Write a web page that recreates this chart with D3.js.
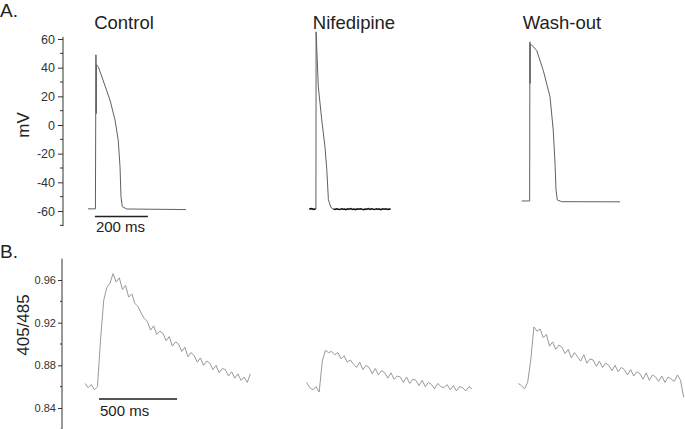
<!DOCTYPE html>
<html>
<head>
<meta charset="utf-8">
<script src="https://cdn.jsdelivr.net/npm/d3@7/dist/d3.min.js"></script>
<style>
  body { margin: 0; background: #fff; }
  svg { font-family: "Liberation Sans", Arial, sans-serif; }
  .axis text { fill: #333; }
  .axis line, .axis path { stroke: #333; }
</style>
</head>
<body>
<div id="chart"></div>
<script>
// panel titles
var conditions = ["Control", "Nifedipine", "Wash-out"];

// A. membrane potential (time in ms from sweep start, mV)
var ctrlT = [0, 28, 30, 30.6, 31.2, 31.8, 38.9, 56.6, 83, 102, 114, 120.8, 124.5, 129.4, 146, 370];
var ctrlV = [-58.5, -58.5, 49, 30, 8, 42, 40.7, 31.4, 17.4, 3.5, -10.5, -29, -50, -57, -58.6, -59];

var nifT = [0, 25, 25.6, 34, 47, 59, 66, 72, 81, 91];
var nifV = [-58.6, -58.6, 65, 26.7, 3.5, -15, -31, -52, -57.4, -58.6];
var nifPreT = [0, 8, 16, 24];
var nifPreV = [-58.6, -58.3, -58.9, -58.5];
var nifBaseT = [91, 97, 103, 109, 115, 121, 127, 133, 139, 145, 151, 157, 163, 169, 175, 181, 187, 193, 199, 205, 211, 217, 223, 229, 235, 241, 247, 253, 259, 265, 271, 277, 283, 289, 295, 301, 307];
var nifBaseV = [-58.6, -58.9, -58.5, -58.7, -59.0, -58.4, -58.8, -58.6, -59.1, -58.5, -58.7, -58.3, -58.9, -58.6, -59.0, -58.5, -58.8, -58.4, -58.7, -59.1, -58.6, -58.8, -58.3, -58.9, -58.5, -58.7, -59.0, -58.4, -58.8, -58.6, -59.1, -58.5, -58.7, -58.4, -58.9, -58.6, -58.8];

var woT = [0, 30, 31, 31.6, 32.2, 37.7, 56.6, 81.5, 106.8, 119, 125.7, 129.4, 134.3, 151, 371];
var woV = [-53, -53, 58, 29, 56.5, 55.8, 52, 38, 19.7, -3.5, -26.7, -45, -52.3, -53.5, -53.6];

var mvTicks = [-60, -40, -20, 0, 20, 40, 60];
var mvMinor = [-70, -50, -30, -10, 10, 30, 50];

// B. 405/485 ratio, sampled every 20 ms
var ratioT = d3.range(0, 1061, 20);
var ctrlRatio = [0.863, 0.859, 0.862, 0.857, 0.860, 0.905, 0.941, 0.953, 0.957, 0.966, 0.958, 0.962, 0.951, 0.955, 0.944, 0.947, 0.938, 0.935, 0.929, 0.924, 0.921, 0.913, 0.917, 0.909, 0.912, 0.910, 0.903, 0.907, 0.898, 0.902, 0.900, 0.893, 0.897, 0.888, 0.892, 0.889, 0.883, 0.887, 0.880, 0.884, 0.882, 0.876, 0.880, 0.873, 0.877, 0.876, 0.870, 0.874, 0.868, 0.872, 0.866, 0.869, 0.864, 0.872];
var nifRatio = [0.864, 0.859, 0.857, 0.860, 0.855, 0.884, 0.894, 0.892, 0.893, 0.890, 0.892, 0.886, 0.889, 0.883, 0.885, 0.881, 0.878, 0.883, 0.876, 0.880, 0.878, 0.872, 0.877, 0.871, 0.875, 0.873, 0.868, 0.873, 0.867, 0.870, 0.869, 0.864, 0.869, 0.863, 0.867, 0.866, 0.861, 0.866, 0.860, 0.864, 0.862, 0.858, 0.863, 0.860, 0.859, 0.862, 0.857, 0.861, 0.856, 0.860, 0.859, 0.856, 0.860, 0.858];
var woRatio = [0.863, 0.861, 0.858, 0.864, 0.885, 0.916, 0.912, 0.914, 0.906, 0.909, 0.898, 0.902, 0.895, 0.899, 0.897, 0.891, 0.895, 0.887, 0.892, 0.888, 0.884, 0.890, 0.882, 0.886, 0.885, 0.879, 0.884, 0.878, 0.882, 0.880, 0.875, 0.880, 0.874, 0.878, 0.876, 0.871, 0.876, 0.870, 0.874, 0.872, 0.867, 0.873, 0.866, 0.871, 0.869, 0.865, 0.870, 0.864, 0.869, 0.867, 0.865, 0.871, 0.866, 0.850];

var ratioTicks = [0.84, 0.88, 0.92, 0.96];
var ratioMinor = [0.82, 0.86, 0.90, 0.94];

var width = 685, height = 429;
var svg = d3.select("#chart").append("svg")
    .attr("width", width)
    .attr("height", height);

// scales
var yA = d3.scaleLinear().domain([-60, 60]).range([211, 39]);
var xA = d3.scaleLinear().domain([0, 400]).range([0, 106]);
var yB = d3.scaleLinear().domain([0.84, 0.96]).range([408, 280]);
var xB = d3.scaleLinear().domain([0, 1100]).range([0, 171.6]);
var offA = [88, 309.3, 521.7];
var offB = [85, 306.7, 518.3];

// panel letters + titles
svg.append("text").attr("x", 0).attr("y", 17).attr("font-size", 19).attr("fill", "#222").text("A.");
svg.append("text").attr("x", 0).attr("y", 258).attr("font-size", 19).attr("fill", "#222").text("B.");
var titleX = [124, 354, 562];
conditions.forEach(function (c, i) {
    svg.append("text")
        .attr("x", titleX[i]).attr("y", 29)
        .attr("text-anchor", "middle")
        .attr("font-size", 18.5).attr("fill", "#222")
        .text(c);
});

var hyphen = function (d) { return String(d).replace("\u2212", "-"); };

// y axis A
var gA = svg.append("g").attr("class", "axis").attr("transform", "translate(63,0)");
gA.call(d3.axisLeft(yA).tickValues(mvTicks).tickFormat(function (d) { return d < 0 ? "-" + (-d) : "" + d; })
        .tickSize(5).tickPadding(3).tickSizeOuter(0))
    .attr("font-size", 12.5);
gA.select(".domain").remove();
gA.append("line").attr("x1", 0).attr("x2", 0).attr("y1", yA(61.5)).attr("y2", yA(-70.5))
    .attr("stroke", "#333");
gA.selectAll(".minor").data(mvMinor).enter().append("line")
    .attr("class", "minor")
    .attr("x1", -3).attr("x2", 0)
    .attr("y1", function (d) { return yA(d); }).attr("y2", function (d) { return yA(d); })
    .attr("stroke", "#333");
svg.append("text")
    .attr("transform", "translate(29," + yA(0) + ") rotate(-90)")
    .attr("text-anchor", "middle").attr("font-size", 17).attr("fill", "#222")
    .text("mV");

// y axis B
var gB = svg.append("g").attr("class", "axis").attr("transform", "translate(62,0)");
gB.call(d3.axisLeft(yB).tickValues(ratioTicks).tickFormat(d3.format(".2f")).tickSize(4).tickPadding(2).tickSizeOuter(0))
    .attr("font-size", 11);
gB.select(".domain").remove();
gB.append("line").attr("x1", 0).attr("x2", 0).attr("y1", yB(0.98)).attr("y2", yB(0.82))
    .attr("stroke", "#333");
gB.selectAll(".minor").data(ratioMinor).enter().append("line")
    .attr("class", "minor")
    .attr("x1", -2).attr("x2", 0)
    .attr("y1", function (d) { return yB(d); }).attr("y2", function (d) { return yB(d); })
    .attr("stroke", "#333");
svg.append("text")
    .attr("transform", "translate(29,325) rotate(-90)")
    .attr("text-anchor", "middle").attr("font-size", 17).attr("fill", "#222")
    .text("405/485");

// traces
function lineA(off) {
    return d3.line()
        .x(function (d) { return off + xA(d[0]); })
        .y(function (d) { return yA(d[1]); });
}
function lineB(off) {
    return d3.line()
        .x(function (d) { return off + xB(d[0]); })
        .y(function (d) { return yB(d[1]); });
}
function zip(a, b) { return a.map(function (v, i) { return [v, b[i]]; }); }

var apSets = [zip(ctrlT, ctrlV), zip(nifT, nifV), zip(woT, woV)];
apSets.forEach(function (pts, i) {
    svg.append("path")
        .datum(pts)
        .attr("d", lineA(offA[i]))
        .attr("fill", "none")
        .attr("stroke", "#606060")
        .attr("stroke-width", 1);
});
[zip(nifPreT, nifPreV), zip(nifBaseT, nifBaseV)].forEach(function (pts) {
    svg.append("path")
        .datum(pts)
        .attr("d", lineA(offA[1]))
        .attr("fill", "none")
        .attr("stroke", "#111")
        .attr("stroke-width", 1.5);
});

var ratioSets = [ctrlRatio, nifRatio, woRatio];
ratioSets.forEach(function (vals, i) {
    svg.append("path")
        .datum(zip(ratioT, vals))
        .attr("d", lineB(offB[i]))
        .attr("fill", "none")
        .attr("stroke", "#999")
        .attr("stroke-width", 1);
});

// scale bars
var barA0 = offA[0] + xA(26);
svg.append("line")
    .attr("x1", barA0).attr("x2", barA0 + xA(200) - xA(0))
    .attr("y1", 216.5).attr("y2", 216.5)
    .attr("stroke", "#222").attr("stroke-width", 1.5);
svg.append("text").attr("x", barA0 + 1).attr("y", 232)
    .attr("font-size", 15).attr("fill", "#222").text("200 ms");

var barB0 = offB[0] + xB(90);
svg.append("line")
    .attr("x1", barB0).attr("x2", barB0 + xB(500) - xB(0))
    .attr("y1", 399).attr("y2", 399)
    .attr("stroke", "#555").attr("stroke-width", 2);
svg.append("text").attr("x", barB0 + 1).attr("y", 416)
    .attr("font-size", 15).attr("fill", "#222").text("500 ms");
</script>
</body>
</html>
